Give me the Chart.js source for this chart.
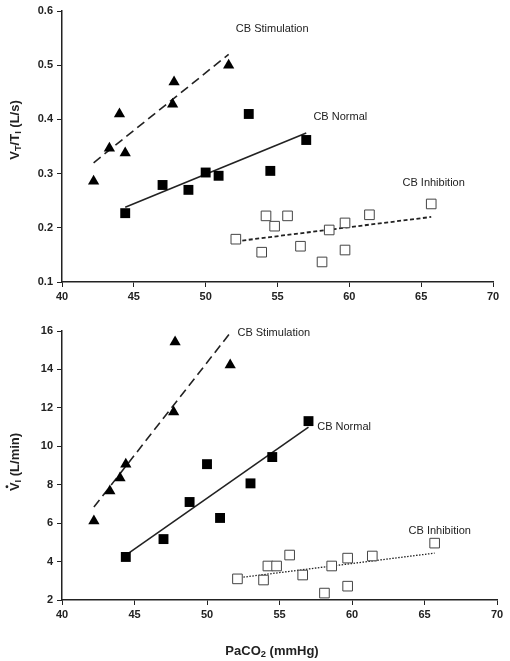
<!DOCTYPE html>
<html lang="en">
<head>
<meta charset="UTF-8">
<title>CB responses vs PaCO2</title>
<script src="https://cdn.jsdelivr.net/npm/chart.js"></script>
<style>
  body { margin: 0; background: #fff; }
  #wrap { position: relative; width: 510px; height: 661px; }
  #top { position: absolute; left: 0; top: 0; }
  #bottom { position: absolute; left: 0; top: 310px; }
</style>
</head>
<body>
<div id="wrap">
  <canvas id="top" width="510" height="310"></canvas>
  <canvas id="bottom" width="510" height="351"></canvas>
</div>
<script>
// PaCO2 (mmHg) per animal
const stimX   = [42.2, 43.3, 44.0, 44.4, 47.7, 47.8, 51.6];
const normalX = [44.4, 47.0, 48.8, 50.0, 50.9, 53.0, 54.5, 57.0];
const inhibX  = [52.1, 53.9, 54.2, 54.8, 55.7, 56.6, 58.1, 58.6, 59.7, 59.7, 61.4, 65.7];

// VT/TI (L/s)
const stimVt   = [0.286, 0.347, 0.41, 0.338, 0.428, 0.469, 0.50];
const normalVt = [0.227, 0.279, 0.270, 0.302, 0.296, 0.41, 0.305, 0.362];
const inhibVt  = [0.179, 0.155, 0.222, 0.203, 0.222, 0.166, 0.137, 0.196, 0.209, 0.159, 0.224, 0.244];

// VI (L/min)
const stimVi   = [6.11, 7.67, 8.35, 9.07, 11.78, 15.43, 14.23];
const normalVi = [4.24, 5.17, 7.1, 9.07, 6.27, 8.07, 9.44, 11.31];
const inhibVi  = [3.1, 3.04, 3.77, 3.77, 4.34, 3.3, 2.36, 3.77, 4.18, 2.72, 4.29, 4.96];

// regression line end points [x0, x1], [y0, y1]
const fitX = { stim: [42.2, 51.6], normal: [44.4, 57.0], inhib: [52.1, 65.7] };
const fitVt = { stim: [0.32, 0.52], normal: [0.238, 0.375], inhib: [0.175, 0.22] };
const fitVi = { stim: [6.84, 15.9], normal: [4.34, 11.0], inhib: [3.15, 4.44] };

const groupNames = ['CB Stimulation', 'CB Normal', 'CB Inhibition'];

const ink = '#222';
const font = 'Liberation Sans, Arial, sans-serif';

function pts(xs, ys) {
  return xs.map((x, i) => ({ x: x, y: ys[i] }));
}

function buildDatasets(vals, fit, inhibDash, inhibWidth) {
  const line = (key, dash, w) => ({
    type: 'line',
    data: pts(fitX[key], fit[key]),
    borderColor: ink,
    borderWidth: w,
    borderDash: dash,
    pointRadius: 0,
    fill: false,
    order: 2
  });
  return [
    line('stim', [9, 5], 1.6),
    line('normal', [], 1.6),
    line('inhib', inhibDash, inhibWidth),
    { data: pts(stimX, vals[0]), pointStyle: 'triangle', pointRadius: 6.5,
      backgroundColor: '#000', borderColor: '#000', borderWidth: 0, order: 1 },
    { data: pts(normalX, vals[1]), pointStyle: 'rect', pointRadius: 7,
      backgroundColor: '#000', borderColor: '#000', borderWidth: 0, order: 1 },
    { data: pts(inhibX, vals[2]), pointStyle: 'rect', pointRadius: 6.8,
      backgroundColor: '#fff', borderColor: '#444', borderWidth: 1, order: 1 }
  ];
}

function buildScales(yMin, yMax, yStep, dec, xHeight) {
  const tickFont = { family: font, size: 11, weight: 'bold' };
  return {
    x: {
      type: 'linear', min: 40, max: 70,
      ticks: { stepSize: 5, color: ink, font: tickFont, padding: 3 },
      grid: { drawOnChartArea: false, tickLength: 5, color: ink },
      border: { color: ink, width: 1.5 },
      afterFit: s => { s.height = xHeight; }
    },
    y: {
      type: 'linear', min: yMin, max: yMax,
      ticks: { stepSize: yStep, color: ink, font: tickFont, padding: 4,
               callback: v => v.toFixed(dec) },
      grid: { drawOnChartArea: false, tickLength: 5, color: ink },
      border: { color: ink, width: 1.5 },
      afterFit: s => { s.width = 62; }
    }
  };
}

// draws text runs with optional subscript / dot accent, centred on (cx, cy)
function drawRich(ctx, runs, cx, cy, size, rot) {
  ctx.save();
  ctx.translate(cx, cy);
  ctx.rotate(rot);
  ctx.fillStyle = ink;
  ctx.textBaseline = 'middle';
  ctx.textAlign = 'left';
  let total = 0;
  runs.forEach(r => {
    ctx.font = 'bold ' + (r.sub ? size * 0.72 : size) + 'px ' + font;
    r.w = ctx.measureText(r.t).width;
    total += r.w;
  });
  let x = -total / 2;
  runs.forEach(r => {
    ctx.font = 'bold ' + (r.sub ? size * 0.72 : size) + 'px ' + font;
    ctx.fillText(r.t, x, r.sub ? size * 0.28 : 0);
    if (r.dot) {
      ctx.beginPath();
      ctx.arc(x + r.w / 2, -size * 0.62, 1.4, 0, Math.PI * 2);
      ctx.fill();
    }
    x += r.w;
  });
  ctx.restore();
}

function textPlugin(labelPos, yTitle, yTitleY, xTitle) {
  return {
    id: 'texts',
    afterDraw(chart) {
      const ctx = chart.ctx;
      const sx = chart.scales.x, sy = chart.scales.y;
      ctx.save();
      ctx.fillStyle = ink;
      ctx.font = '11px ' + font;
      ctx.textBaseline = 'middle';
      ctx.textAlign = 'left';
      groupNames.forEach((name, i) => {
        ctx.fillText(name, sx.getPixelForValue(labelPos[i][0]), sy.getPixelForValue(labelPos[i][1]));
      });
      ctx.restore();
      drawRich(ctx, yTitle, 15, yTitleY, 13, -Math.PI / 2);
      if (xTitle) drawRich(ctx, xTitle, 272, 341, 13, 0);
    }
  };
}

function makeChart(id, vals, fit, inhibDash, inhibWidth, scales, padding, plugin) {
  return new Chart(document.getElementById(id), {
    type: 'scatter',
    data: { datasets: buildDatasets(vals, fit, inhibDash, inhibWidth) },
    options: {
      responsive: false,
      animation: false,
      layout: { padding: padding },
      plugins: { legend: { display: false }, tooltip: { enabled: false } },
      scales: scales
    },
    plugins: [plugin]
  });
}

makeChart('top', [stimVt, normalVt, inhibVt], fitVt, [4, 2.5], 1.8,
  buildScales(0.1, 0.6, 0.1, 1, 28),
  { top: 11, right: 17, bottom: 0, left: 0 },
  textPlugin([[52.1, 0.567], [57.5, 0.404], [63.7, 0.283]],
    [{ t: 'V' }, { t: 'T', sub: true }, { t: '/T' }, { t: 'I', sub: true }, { t: ' (L/s)' }], 130));

makeChart('bottom', [stimVi, normalVi, inhibVi], fitVi, [1.5, 1.5], 1.3,
  buildScales(2, 16, 2, 0, 61),
  { top: 21, right: 13, bottom: 0, left: 0 },
  textPlugin([[52.1, 15.9], [57.6, 11.0], [63.9, 5.59]],
    [{ t: 'V', dot: true }, { t: 'I', sub: true }, { t: ' (L/min)' }], 152,
    [{ t: 'PaCO' }, { t: '2', sub: true }, { t: ' (mmHg)' }]));
</script>
</body>
</html>
